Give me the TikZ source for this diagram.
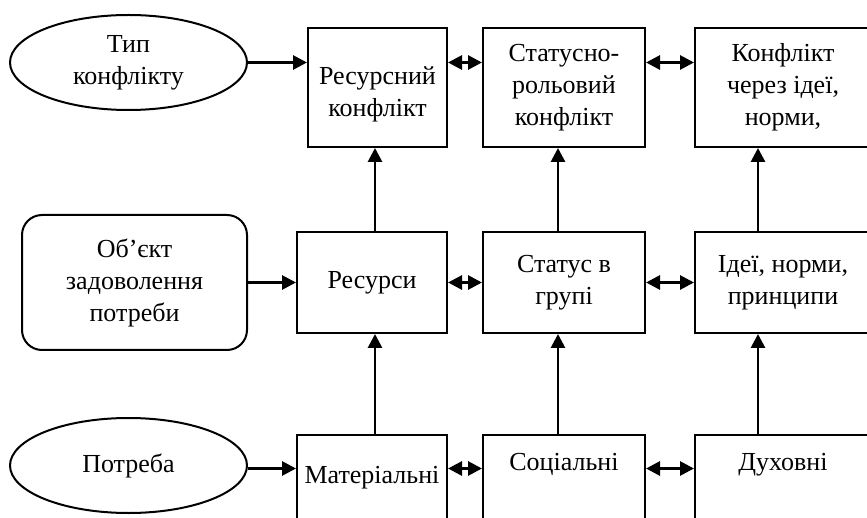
\documentclass[tikz,border=0pt]{standalone}
\usepackage{fontspec}
\setmainfont{Liberation Serif}
\usetikzlibrary{shapes.geometric,arrows.meta}
\begin{document}
\begin{tikzpicture}[x=1pt,y=-1pt]
\tikzset{kub/.style={draw, line width=2pt, align=center, inner sep=0pt, font=\fontsize{26}{32}\selectfont},
         vid/.style={kub, ellipse, minimum width=237pt, minimum height=95pt},
         obj/.style={kub, rounded corners=20pt, minimum width=225pt, minimum height=135pt},
         niz/.style={text height=18pt, text depth=#1},
         strilka/.style={line width=2.8pt, -{Triangle[length=14pt,width=14pt]}},
         dvi/.style={line width=2.8pt, {Triangle[length=14pt,width=14pt]}-{Triangle[length=14pt,width=14pt]}}}
\useasboundingbox (0,0) rectangle (867,518);
\clip (0,0) rectangle (867,518);
\node[vid] (Typ) at (128.5,62.5) {Тип\\конфлікту};
\node[obj] (Obj) at (134.5,282.5) {Об’єкт\\задоволення\\потреби};
\node[vid] (Potr) at (128.5,465.5) {Потреба};
\node[kub, minimum width=139pt, minimum height=119pt] (R1) at (377.5,87.5) {\rule{0pt}{31pt}Ресурсний\\конфлікт};
\node[kub, minimum width=162pt, minimum height=119pt] (R2) at (564,87.5) {Статусно-\\рольовий\\конфлікт};
\node[kub, minimum width=176pt, minimum height=119pt] (R3) at (783,87.5) {Конфлікт\\через ідеї,\\норми,};
\node[kub, minimum width=150pt, minimum height=101pt] (Z1) at (372,282.5) {Ресурси};
\node[kub, minimum width=162pt, minimum height=101pt] (Z2) at (564,282.5) {Статус в\\групі};
\node[kub, minimum width=176pt, minimum height=101pt] (Z3) at (783,282.5) {Ідеї, норми,\\принципи};
\node[kub, niz=23pt, minimum width=150pt, minimum height=101pt] (P1) at (372,485.5) {Матеріальні};
\node[kub, niz=49pt, minimum width=162pt, minimum height=101pt] (P2) at (564,485.5) {Соціальні};
\node[kub, niz=49pt, minimum width=176pt, minimum height=101pt] (P3) at (783,485.5) {Духовні};
% vhidni strilky
\draw[strilka] (Typ.east) -- (R1.west |- Typ.east);
\draw[strilka] (Obj) -- (Z1);
\draw[strilka] ([yshift=-3pt]Potr.east) -- ([yshift=-3pt]P1.west |- Potr.east);
% mizh riadamy
\draw[strilka] ([xshift=3pt]P1.north) -- ([xshift=3pt]Z1.south);
\draw[strilka] ([xshift=3pt]Z1.north) -- ([xshift=3pt]R1.south -| Z1.north);
\draw[strilka] ([xshift=-6pt]P2.north) -- ([xshift=-6pt]Z2.south);
\draw[strilka] ([xshift=-6pt]Z2.north) -- ([xshift=-6pt]R2.south);
\draw[strilka] ([xshift=-25pt]P3.north) -- ([xshift=-25pt]Z3.south);
\draw[strilka] ([xshift=-25pt]Z3.north) -- ([xshift=-25pt]R3.south);
% dvobichni
\draw[dvi] (R1.east |- Typ) -- (R2.west |- Typ);
\draw[dvi] (R2.east |- Typ) -- (R3.west |- Typ);
\draw[dvi] (Z1) -- (Z2);
\draw[dvi] (Z2) -- (Z3);
\draw[dvi] ([yshift=-3pt]P1.east |- Potr) -- ([yshift=-3pt]P2.west |- Potr);
\draw[dvi] ([yshift=-3pt]P2.east |- Potr) -- ([yshift=-3pt]P3.west |- Potr);
\end{tikzpicture}
\end{document}
